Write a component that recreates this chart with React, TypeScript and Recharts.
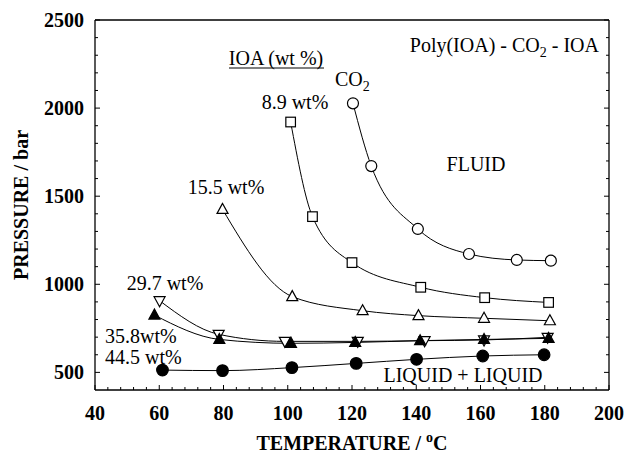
import { Customized, Line, LineChart, XAxis, YAxis } from 'recharts'

const FONT = "'Liberation Serif', 'DejaVu Serif', serif"

// temperatures (°C) and pressures (bar)
const CO2_T = [120.3, 126.0, 140.5, 156.4, 171.3, 181.9]
const CO2_P = [2027, 1671, 1314, 1172, 1138, 1134]

const W89_T = [100.9, 107.7, 120.0, 141.4, 161.3, 181.2]
const W89_P = [1921, 1384, 1123, 983, 924, 897]

const W155_T = [79.7, 101.4, 123.3, 140.7, 161.1, 181.6]
const W155_P = [1425, 930, 850, 822, 807, 793]

const W297_T = [60.1, 78.5, 99.1, 121.8, 142.6, 161.1, 180.9]
const W297_P = [907, 716, 676, 676, 680, 684, 699]

const W358_T = [58.5, 78.7, 101.0, 121.0, 141.2, 161.1, 181.2]
const W358_P = [825, 687, 665, 670, 680, 687, 693]

const W445_T = [61.0, 79.7, 101.3, 121.3, 140.1, 160.7, 179.8]
const W445_P = [513, 510, 527, 551, 574, 593, 600]

const X_MAJOR = [40, 60, 80, 100, 120, 140, 160, 180, 200]
const Y_MAJOR = [500, 1000, 1500, 2000, 2500]

const X_TICKS: number[] = []
for (let v = 40; v <= 200; v += 4) X_TICKS.push(v)
const Y_TICKS: number[] = []
for (let v = 500; v <= 2500; v += 100) Y_TICKS.push(v)

const rows = (t: number[], p: number[]) => t.map((v, i) => ({ t: v, p: p[i] }))

type Kind = 'circle' | 'square' | 'up' | 'down' | 'upFilled' | 'circleFilled'

const TXT = { fontFamily: FONT, fontSize: 20, fill: '#000' }
const BOLD = { fontFamily: FONT, fontSize: 20, fontWeight: 700, fill: '#000' }

function marker (kind: Kind) {
  return (props: any) => {
    const { cx, cy, index } = props
    const common = { stroke: '#000', strokeWidth: 1.2 }
    if (cx == null || cy == null) return <g key={index} />
    switch (kind) {
      case 'circle':
        return <circle key={index} cx={cx} cy={cy} r={5.5} fill='#fff' {...common} />
      case 'circleFilled':
        return <circle key={index} cx={cx} cy={cy} r={5.8} fill='#000' {...common} />
      case 'square':
        return <rect key={index} x={cx - 4.8} y={cy - 4.8} width={9.6} height={9.6} fill='#fff' {...common} />
      case 'up':
      case 'upFilled':
        return (
          <polygon
            key={index}
            points={`${cx},${cy - 6} ${cx - 5.5},${cy + 4} ${cx + 5.5},${cy + 4}`}
            fill={kind === 'up' ? '#fff' : '#000'}
            {...common}
          />
        )
      default:
        return (
          <polygon
            key={index}
            points={`${cx},${cy + 6} ${cx - 5.5},${cy - 4} ${cx + 5.5},${cy - 4}`}
            fill='#fff'
            {...common}
          />
        )
    }
  }
}

function BottomTick ({ x, y, payload }: any) {
  const major = X_MAJOR.includes(payload.value)
  return (
    <g>
      <line x1={x} x2={x} y1={y} y2={y - (major ? 5 : 3)} stroke='#000' />
      {major && (
        <text x={x} y={y + 30} textAnchor='middle' style={BOLD}>
          {payload.value}
        </text>
      )}
    </g>
  )
}

function TopTick ({ x, y, payload }: any) {
  const major = X_MAJOR.includes(payload.value)
  return <line x1={x} x2={x} y1={y} y2={y + (major ? 5 : 3)} stroke='#000' />
}

function LeftTick ({ x, y, payload }: any) {
  const major = Y_MAJOR.includes(payload.value)
  return (
    <g>
      <line x1={x} x2={x + (major ? 5 : 3)} y1={y} y2={y} stroke='#000' />
      {major && (
        <text x={x - 11} y={y + 7} textAnchor='end' style={BOLD}>
          {payload.value}
        </text>
      )}
    </g>
  )
}

function RightTick ({ x, y, payload }: any) {
  const major = Y_MAJOR.includes(payload.value)
  return <line x1={x} x2={x - (major ? 5 : 3)} y1={y} y2={y} stroke='#000' />
}

function Annotations () {
  return (
    <g>
      <text x={599} y={52} textAnchor='end' style={TXT}>
        Poly(IOA) - CO<tspan dy={5} fontSize={14}>2</tspan><tspan dy={-5}> - IOA</tspan>
      </text>
      <text x={276} y={65} textAnchor='middle' style={TXT}>IOA (wt %)</text>
      <line x1={229} x2={324} y1={68} y2={68} stroke='#000' strokeWidth={1} />
      <text x={335} y={86} style={TXT}>
        CO<tspan dy={5} fontSize={14}>2</tspan>
      </text>
      <text x={295} y={109} textAnchor='middle' style={TXT}>8.9 wt%</text>
      <text x={476} y={171} textAnchor='middle' style={TXT}>FLUID</text>
      <text x={226} y={194} textAnchor='middle' style={TXT}>15.5 wt%</text>
      <text x={165} y={290} textAnchor='middle' style={TXT}>29.7 wt%</text>
      <text x={105} y={343} style={TXT}>35.8wt%</text>
      <text x={105} y={364} style={TXT}>44.5 wt%</text>
      <text x={463} y={382} textAnchor='middle' style={TXT}>LIQUID + LIQUID</text>
      <text x={352} y={450} textAnchor='middle' style={BOLD}>
        TEMPERATURE / <tspan dy={-8} fontSize={14}>o</tspan><tspan dy={8}>C</tspan>
      </text>
      <text x={28} y={205} textAnchor='middle' transform='rotate(-90, 28, 205)' style={BOLD}>
        PRESSURE / bar
      </text>
    </g>
  )
}

const SERIES: { key: string, t: number[], p: number[], kind: Kind }[] = [
  { key: 'co2', t: CO2_T, p: CO2_P, kind: 'circle' },
  { key: 'w89', t: W89_T, p: W89_P, kind: 'square' },
  { key: 'w155', t: W155_T, p: W155_P, kind: 'up' },
  { key: 'w297', t: W297_T, p: W297_P, kind: 'down' },
  { key: 'w358', t: W358_T, p: W358_P, kind: 'upFilled' },
  { key: 'w445', t: W445_T, p: W445_P, kind: 'circleFilled' }
]

const AXIS_LINE = { stroke: '#000', strokeWidth: 1.3 }

export default function App () {
  return (
    <div style={{ position: 'absolute', left: 0, top: 0, background: '#fff', fontFamily: FONT }}>
      <LineChart width={625} height={456} margin={{ top: 19, right: 15, bottom: 0, left: 0 }}>
        <XAxis
          dataKey='t'
          type='number'
          domain={[40, 200]}
          ticks={X_TICKS}
          interval={0}
          height={66}
          tickSize={0}
          tickMargin={0}
          tickLine={false}
          tick={<BottomTick />}
          axisLine={AXIS_LINE}
          allowDataOverflow
        />
        <XAxis
          xAxisId='top'
          orientation='top'
          type='number'
          domain={[40, 200]}
          ticks={X_TICKS}
          interval={0}
          height={1}
          tickSize={0}
          tickMargin={0}
          tickLine={false}
          tick={<TopTick />}
          axisLine={AXIS_LINE}
          allowDataOverflow
        />
        <YAxis
          type='number'
          domain={[400, 2500]}
          ticks={Y_TICKS}
          interval={0}
          width={95}
          tickSize={0}
          tickMargin={0}
          tickLine={false}
          tick={<LeftTick />}
          axisLine={AXIS_LINE}
          allowDataOverflow
        />
        <YAxis
          yAxisId='right'
          orientation='right'
          type='number'
          domain={[400, 2500]}
          ticks={Y_TICKS}
          interval={0}
          width={1}
          tickSize={0}
          tickMargin={0}
          tickLine={false}
          tick={<RightTick />}
          axisLine={AXIS_LINE}
          allowDataOverflow
        />
        {SERIES.map(s => (
          <Line
            key={s.key}
            data={rows(s.t, s.p)}
            dataKey='p'
            type='monotone'
            stroke='#000'
            strokeWidth={1}
            dot={marker(s.kind)}
            activeDot={false}
            isAnimationActive={false}
          />
        ))}
        <Customized component={<Annotations />} />
      </LineChart>
    </div>
  )
}
